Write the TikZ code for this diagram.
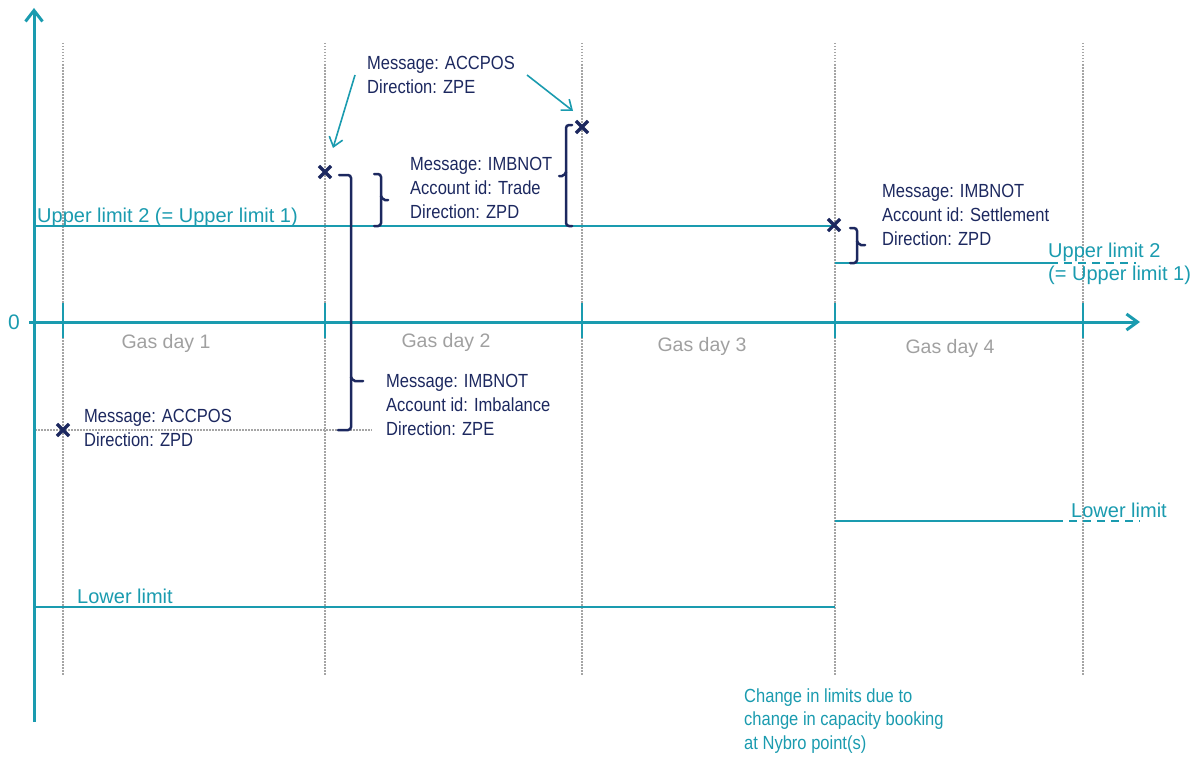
\documentclass[tikz,border=0pt]{standalone}
\usepackage{fontspec}
\setmainfont{Liberation Sans}
\newfontfamily\narrowf[FakeStretch=0.87]{Liberation Sans}
\usetikzlibrary{arrows.meta,shapes.misc}
\definecolor{tealc}{RGB}{26,155,175}
\definecolor{navyc}{RGB}{28,40,95}
\definecolor{grayt}{RGB}{160,160,160}
\definecolor{grayl}{RGB}{165,165,165}
\tikzset{
  grid/.style={grayl, line width=1.2pt, dash pattern=on 1.5pt off 1.5pt},
  axisline/.style={tealc, line width=3pt},
  tickline/.style={tealc, line width=2.5pt},
  limitline/.style={tealc, line width=2pt},
  limitdash/.style={tealc, line width=2pt, dash pattern=on 8pt off 6pt},
  bracec/.style={navyc, line width=2.5pt, rounded corners=3pt, line cap=round},
  xmark/.style={draw=navyc, cross out, line width=3.2pt, minimum size=9pt, inner sep=0pt},
  msg/.style={font=\narrowf\fontsize{19}{24}\selectfont, text=navyc, align=left, inner sep=0pt},
  lab/.style={font=\fontsize{20}{23}\selectfont, text=tealc, inner sep=0pt},
  labn/.style={font=\narrowf\fontsize{19}{23.5}\selectfont, text=tealc, align=left, inner sep=0pt},
  gasday/.style={font=\fontsize{19.5}{23}\selectfont, text=grayt, inner sep=0pt},
  callout/.style={tealc, line width=1.6pt, -{Straight Barb[length=9pt,width=14pt]}},
}
\begin{document}
\begin{tikzpicture}[x=1pt,y=-1pt]
\useasboundingbox (0,0) rectangle (1204,760);
% grid lines
\foreach \gx/\nm in {63/g1,325/g2,582/g3,835/g4,1083/g5}{
  \coordinate (\nm t) at (\gx,43);
  \coordinate (\nm b) at (\gx,675);
  \draw[grid] (\nm t) -- (\nm b);
}
\coordinate (hd1) at (35,430);
\coordinate (hd2) at (372,430);
\draw[grid] (hd1) -- (hd2);
% limit lines
\coordinate (ul1) at (35,226);
\coordinate (ul2) at (835,226);
\draw[limitline] (ul1) -- (ul2);
\coordinate (un1) at (835,263);
\coordinate (un2) at (1050,263);
\coordinate (un3) at (1136,263);
\draw[limitline] (un1) -- (un2);
\draw[limitdash] (un2) -- (un3);
\coordinate (ll1) at (35,607);
\coordinate (ll2) at (835,607);
\draw[limitline] (ll1) -- (ll2);
\coordinate (ln1) at (835,521);
\coordinate (ln2) at (1055,521);
\coordinate (ln3) at (1140,521);
\draw[limitline] (ln1) -- (ln2);
\draw[limitdash] (ln2) -- (ln3);
% axes
\coordinate (yb) at (34,722);
\coordinate (yt) at (34,8);
\draw[axisline, -{Straight Barb[length=11pt,width=17pt]}] (yb) -- (yt);
\coordinate (xl) at (29,322);
\coordinate (xr) at (1140,322);
\draw[axisline, -{Straight Barb[length=11pt,width=16pt]}] (xl) -- (xr);
\foreach \gx/\nm in {63/k1,325/k2,582/k3,835/k4,1083/k5}{
  \coordinate (\nm t) at (\gx,303);
  \coordinate (\nm b) at (\gx,338);
  \draw[tickline] (\nm t) -- (\nm b);
}
\node[lab, font=\fontsize{21}{24}\selectfont] (zero) at (14,322) {0};
% gas day labels
\node[gasday] (gd1) at (166,343) {Gas day 1};
\node[gasday] (gd2) at (446,342) {Gas day 2};
\node[gasday] (gd3) at (702,346) {Gas day 3};
\node[gasday] (gd4) at (950,348) {Gas day 4};
% limit labels
\node[lab, anchor=base west] (ullab) at (37,222) {Upper limit 2 (= Upper limit 1)};
\node[lab, anchor=base west, align=left] (unlab) at (1048,280) {Upper limit 2\\(= Upper limit 1)};
\node[lab, anchor=base west] (lllab) at (77,603) {Lower limit};
\node[lab, anchor=base west] (lnlab) at (1071,517) {Lower limit};
% braces
\draw[bracec] (339,175) -- (351,175) -- (351,430) -- (338,430);
\draw[bracec, rounded corners=2pt] (351,377) -- (353,381) -- (363,381);
\draw[bracec] (374,174) -- (381,174) -- (381,226) -- (374,226);
\draw[bracec, rounded corners=2pt] (381,196) -- (383,200) -- (388,200);
\draw[bracec] (572,125) -- (566,125) -- (566,226) -- (572,226);
\draw[bracec, rounded corners=2pt] (566,172) -- (564,176) -- (559,176);
\draw[bracec] (850,228) -- (857,228) -- (857,263) -- (850,263);
\draw[bracec, rounded corners=2pt] (857,241) -- (859,245) -- (865,245);
% x marks
\node[xmark] (x1) at (63,430) {};
\node[xmark] (x2) at (325,172) {};
\node[xmark] (x3) at (582,127) {};
\node[xmark] (x4) at (834,225) {};
% messages
\node[msg, anchor=west] (m1) at (367,75) {Message: ACCPOS\\Direction: ZPE};
\node[msg, anchor=west] (m2) at (410,188) {Message: IMBNOT\\Account id: Trade\\Direction: ZPD};
\node[msg, anchor=west] (m3) at (882,215) {Message: IMBNOT\\Account id: Settlement\\Direction: ZPD};
\node[msg, anchor=west] (m4) at (386,405) {Message: IMBNOT\\Account id: Imbalance\\Direction: ZPE};
\node[msg, anchor=west] (m5) at (84,428) {Message: ACCPOS\\Direction: ZPD};
\node[labn, anchor=west] (note) at (744,721) {Change in limits due to\\change in capacity booking\\at Nybro point(s)};
% callout arrows
\coordinate (a1s) at (355,75);
\coordinate (a1e) at (333,148);
\coordinate (a2s) at (527,75);
\coordinate (a2e) at (573,111);
\draw[callout] (a1s) -- (a1e);
\draw[callout] (a2s) -- (a2e);
\end{tikzpicture}
\end{document}
